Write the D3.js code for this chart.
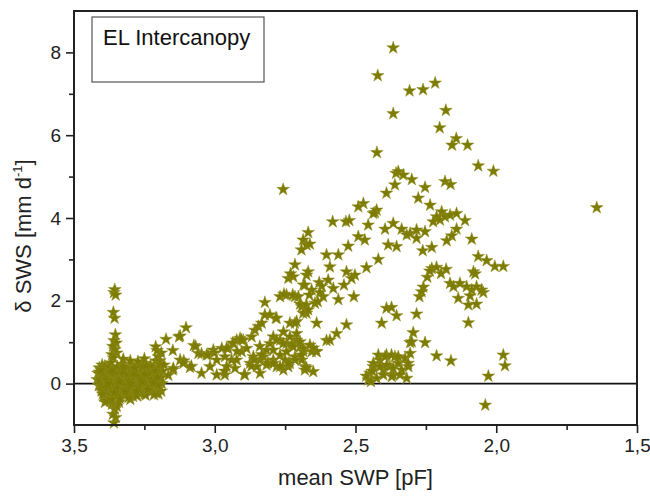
<!DOCTYPE html>
<html>
<head>
<meta charset="utf-8">
<script src="https://cdn.jsdelivr.net/npm/d3@7"></script>
<style>
  html, body { margin: 0; padding: 0; background: #fff; }
  svg { display: block; font-family: "Liberation Sans", Arial, sans-serif; }
</style>
</head>
<body>
<svg id="chart" width="650" height="496"></svg>
<script>
// ---------------- data ----------------
const xTickValues = [3.5, 3.0, 2.5, 2.0, 1.5];
const xTickLabels = ["3,5", "3,0", "2,5", "2,0", "1,5"];
const xMinorTicks = [3.25, 2.75, 2.25, 1.75];
const yTickValues = [0, 2, 4, 6, 8];
const yTickLabels = ["0", "2", "4", "6", "8"];
const yMinorTicks = [1, 3, 5, 7];
const legendLabel = "EL Intercanopy";
const xTitle = "mean SWP [pF]";

// near-saturated cluster (mean SWP ~3.2-3.42 pF)
const clusterSWP = [
  3.358,3.355,3.352,3.360,3.356,3.353,3.358,3.350,3.362,3.355,3.348,3.365,3.360,
  3.358,3.352,3.362,3.355,3.348,3.365,3.340,3.370,
  3.418,3.415,3.412,3.410,3.405,3.402,3.400,3.398,
  3.39,3.37,3.33,3.30,3.27,3.25,3.23,3.21,
  3.40,3.38,3.36,3.34,3.32,3.30,3.28,3.26,3.24,3.22,3.20,3.195,
  3.395,3.375,3.355,3.335,3.315,3.295,3.275,3.255,3.235,3.215,3.198,
  3.405,3.385,3.365,3.345,3.325,3.305,3.285,3.265,3.245,3.225,3.205,
  3.40,3.38,3.36,3.34,3.32,3.30,3.28,3.26,3.24,3.22,3.205,
  3.395,3.375,3.355,3.335,3.31,3.29,3.27,3.25,3.23,3.21,
  3.39,3.38,3.30,3.20,3.19,3.205,3.21,3.195,3.185,3.19,3.188,3.19,3.20,3.325,3.273,3.30,3.25,
  3.408,3.392,3.372,3.352,3.332,3.312,3.292,3.272,3.252,3.232,3.212,
  3.402,3.382,3.362,3.342,3.322,3.302,3.282,3.262,3.242,3.222,3.202,
  3.396,3.376,3.346,3.318,3.288,3.258,3.228,
  3.386,3.366,3.338,3.306,3.276,3.246,3.216,
  3.41,3.39,3.37,3.35,3.33,3.31,3.29,3.27,3.25,3.23,3.21,
  3.404,3.384,3.364,3.344,3.324,3.304,3.284,3.264,3.244,3.224,3.204,
  3.398,3.378,3.358,3.338,3.318,3.298,3.278,3.258,3.238,3.218
];
const clusterSWS = [
  2.20,2.27,2.14,1.72,1.58,1.18,1.04,0.98,0.90,0.82,0.74,0.70,0.62,
  -0.95,-0.82,-0.74,-0.62,-0.55,-0.50,-0.45,-0.42,
  0.10,0.25,-0.05,0.38,0.02,-0.18,0.45,0.18,
  0.42,0.50,0.47,0.40,0.44,0.49,0.38,0.55,
  0.31,0.28,0.35,0.26,0.33,0.29,0.30,0.27,0.32,0.36,0.40,0.55,
  0.14,0.18,0.12,0.16,0.11,0.19,0.13,0.17,0.14,0.20,0.22,
  -0.02,0.03,-0.04,0.02,-0.01,0.04,-0.03,0.01,0.03,-0.02,0.06,
  -0.16,-0.12,-0.18,-0.14,-0.11,-0.17,-0.13,-0.10,-0.12,-0.08,-0.15,
  -0.30,-0.35,-0.28,-0.32,-0.26,-0.31,-0.22,-0.25,-0.20,-0.22,
  -0.45,-0.40,-0.38,0.65,0.74,0.80,0.89,0.47,0.30,0.15,0.0,-0.18,-0.25,0.59,0.53,0.55,0.60,
  0.08,0.22,0.07,0.24,0.05,0.23,0.09,0.21,0.06,0.25,0.12,
  -0.07,-0.21,-0.08,-0.23,-0.06,-0.24,-0.09,-0.20,-0.05,-0.18,-0.04,
  0.37,0.39,0.41,0.36,0.38,0.42,0.44,
  -0.42,-0.38,-0.36,-0.33,-0.30,-0.28,-0.27,
  0.28,-0.10,0.26,-0.09,0.27,-0.12,0.24,-0.07,0.22,-0.10,0.30,
  0.33,0.09,0.31,0.07,0.40,0.06,0.37,0.10,0.43,0.09,0.15,
  -0.25,0.00,-0.22,0.05,-0.20,0.00,-0.18,0.04,-0.14,0.02
];

// band between 3.2 and 2.67 pF
const bandSWP = [
  3.173,3.127,3.102,3.149,3.123,3.110,3.149,3.180,3.165,3.123,3.074,3.058,3.112,3.147,3.088,3.047,3.083,3.068,
  3.047,3.029,3.017,3.005,2.993,2.993,2.975,2.964,2.964,2.958,2.952,2.940,2.934,2.928,2.922,2.922,2.910,2.904,2.899,2.893,
  2.887,2.875,2.869,2.863,2.857,2.851,2.845,2.839,2.839,2.833,2.827,2.822,2.822,2.816,2.816,2.804,2.804,2.792,2.792,2.780,
  2.780,2.768,2.768,2.768,2.756,2.756,2.750,2.745,2.745,2.739,2.739,2.733,2.733,2.727,2.721,2.715,2.715,2.709,2.709,2.703,
  2.697,2.691,2.691,2.685,2.685,2.679,2.674,2.674,2.906,2.936,2.921,2.958,2.965,3.002,3.024,2.895,2.870,2.859,2.840,2.833,2.811
];
const bandSWS = [
  1.07,1.13,1.35,0.80,0.57,0.55,0.33,0.45,0.20,1.15,0.92,0.73,0.49,0.37,0.39,0.25,0.42,0.90,
  0.72,0.69,0.41,0.81,0.57,0.21,0.85,0.65,0.21,0.41,0.85,0.57,0.97,0.37,1.05,0.57,1.09,0.77,1.05,0.21,
  0.85,0.49,1.13,0.65,1.29,0.41,1.38,0.57,0.25,1.46,0.65,1.66,1.96,0.81,0.45,1.66,0.97,1.13,0.57,1.58,
  0.41,2.10,1.05,0.69,1.25,0.33,0.57,2.14,0.97,2.54,0.41,1.46,0.49,0.93,2.58,2.87,0.65,1.50,1.05,2.10,
  0.89,1.86,0.57,2.38,0.77,0.41,2.62,1.70,1.06,0.98,0.78,0.86,0.30,0.74,0.70,0.22,0.42,0.58,0.90,0.70,0.50
];

// middle region 2.8-2.35 pF
const midSWP = [
  2.757,2.668,2.686,2.674,2.692,2.662,2.668,2.731,2.680,2.656,2.629,2.597,2.715,2.754,2.697,2.674,2.686,2.668,2.644,2.783,2.638,2.715,2.603,2.567,2.532,
  2.780,2.757,2.733,2.709,2.721,2.745,2.792,2.697,2.686,2.662,2.656,2.692,2.715,2.739,2.768,2.680,2.650,2.792,2.638,
  2.581,2.534,2.522,2.603,2.561,2.591,2.615,2.579,2.561,2.541,2.506,2.532,2.502,2.514,2.526,2.490,2.467,2.461,2.455,2.472,2.490,2.425,2.431,2.419,2.395,2.366,2.384,2.354,2.356,2.360,2.390,
  2.620,2.627,2.634,2.664,2.723,2.591,2.639,2.650,2.674
];
const midSWS = [
  4.69,3.65,3.47,3.35,3.23,3.37,2.70,2.65,2.38,2.26,2.44,2.50,2.10,2.16,1.92,1.90,1.70,1.78,1.94,1.58,1.46,1.46,1.04,1.21,1.42,
  1.05,0.97,1.13,1.21,0.89,0.77,0.81,1.01,0.85,0.93,0.77,0.69,0.57,0.49,0.41,0.33,0.29,0.49,0.77,
  3.91,3.91,3.94,3.11,3.11,2.82,2.10,2.30,2.03,2.38,2.10,2.70,2.62,2.54,3.32,3.55,3.47,2.80,3.83,4.35,4.27,4.19,4.13,3.00,3.73,3.87,3.35,3.31,5.08,4.80,4.60,
  2.35,2.20,1.98,2.14,2.14,1.05,0.78,0.86,0.38
];

// low group near 2.45-2.3 pF
const lowSWP = [
  2.390,2.372,2.407,2.354,2.449,2.437,2.413,2.390,2.360,2.425,2.455,2.401,2.378,2.348,2.366,2.437,
  2.419,2.395,2.372,2.348,2.324,2.306,2.413,2.389,2.366,2.336,2.312,2.401,2.371,2.342,2.318,
  2.462,2.445,2.440
];
const lowSWS = [
  1.82,1.84,1.46,1.64,0.25,0.41,0.57,0.69,0.65,0.13,0.09,0.33,0.41,0.49,0.21,0.49,
  0.69,0.65,0.69,0.65,0.61,0.73,0.41,0.45,0.37,0.33,0.41,0.21,0.17,0.21,0.13,
  0.18,0.05,0.30
];

// drier branches 2.45-1.6 pF
const drySWP = [
  2.366,2.421,2.308,2.260,2.217,2.366,2.179,2.201,2.142,2.157,2.102,2.424,2.064,2.010,1.643,2.039,
  2.348,2.330,2.300,2.253,2.182,2.162,2.277,2.235,2.437,2.194,2.212,2.224,2.200,2.182,2.164,2.141,2.111,2.336,2.306,2.283,2.253,2.318,2.141,2.158,2.176,2.283,2.087,2.261,2.229,
  2.064,2.034,2.005,1.975,2.229,2.212,2.178,2.196,2.245,2.081,2.075,2.164,2.152,2.129,2.105,2.087,2.070,2.046,2.259,2.273,2.135,2.099,2.070,2.093,2.283,2.099,2.295,2.306,2.253,
  2.212,2.161,2.028,1.975,1.969,2.265,2.236,2.052,2.300,2.313
];
const drySWS = [
  8.11,7.44,7.07,7.10,7.26,6.52,6.60,6.18,5.92,5.76,5.76,5.58,5.26,5.13,4.25,-0.52,
  5.12,5.04,4.93,4.74,4.88,4.81,4.48,4.31,4.11,4.15,4.03,3.91,3.95,4.03,4.07,4.11,3.94,3.73,3.63,3.71,3.67,3.59,3.73,3.57,3.45,3.51,3.49,3.21,3.29,
  3.07,2.97,2.83,2.83,2.78,2.81,2.76,2.66,2.57,2.70,2.65,2.42,2.34,2.42,2.34,2.26,2.34,2.20,2.33,2.10,2.06,1.90,1.92,2.12,1.68,1.47,1.23,0.99,0.99,
  0.67,0.55,0.18,0.69,0.43,2.22,2.72,2.26,1.01,0.49
];

// ---------------- drawing ----------------
const points = [].concat(
  d3.zip(clusterSWP, clusterSWS),
  d3.zip(bandSWP, bandSWS),
  d3.zip(midSWP, midSWS),
  d3.zip(lowSWP, lowSWS),
  d3.zip(drySWP, drySWS)
);

const svg = d3.select("#chart");
const plot = { left: 74, right: 637, top: 11, bottom: 425 };

const x = d3.scaleLinear().domain([3.5, 1.5]).range([plot.left, plot.right]);
const y = d3.scaleLinear().domain([-1, 9]).range([plot.bottom, plot.top]);

const axisColor = "#222";
const fontSize = 19;

// zero line
svg.append("line")
  .attr("x1", plot.left).attr("x2", plot.right)
  .attr("y1", y(0)).attr("y2", y(0))
  .attr("stroke", "#111").attr("stroke-width", 1.8);

// stars
const star = d3.symbol().type(d3.symbolStar).size(50);
svg.append("g").selectAll("path")
  .data(points)
  .join("path")
  .attr("d", star)
  .attr("transform", d => `translate(${x(d[0])},${y(d[1])})`)
  .attr("fill", "#7d7b00")
  .attr("stroke", "#8f8d20")
  .attr("stroke-width", 0.5);

// axes
function styleAxis(g) {
  g.select(".domain").remove();
  g.selectAll(".tick line").attr("stroke", axisColor).attr("stroke-width", 1.6);
  g.selectAll(".tick text").attr("fill", "#222").attr("font-size", fontSize)
    .attr("font-family", '"Liberation Sans", Arial, sans-serif');
}

svg.append("g")
  .attr("transform", `translate(0,${plot.bottom})`)
  .call(d3.axisBottom(x).tickValues(xTickValues).tickSize(8).tickPadding(6)
    .tickFormat((d, i) => xTickLabels[i]))
  .call(styleAxis);

svg.append("g")
  .attr("transform", `translate(0,${plot.bottom})`)
  .call(d3.axisBottom(x).tickValues(xMinorTicks).tickSize(5).tickFormat(""))
  .call(styleAxis);

svg.append("g")
  .attr("transform", `translate(${plot.left},0)`)
  .call(d3.axisLeft(y).tickValues(yTickValues).tickSize(8).tickPadding(5)
    .tickFormat((d, i) => yTickLabels[i]))
  .call(styleAxis);

svg.append("g")
  .attr("transform", `translate(${plot.left},0)`)
  .call(d3.axisLeft(y).tickValues(yMinorTicks).tickSize(5).tickFormat(""))
  .call(styleAxis);

// frame
svg.append("rect")
  .attr("x", plot.left).attr("y", plot.top)
  .attr("width", plot.right - plot.left).attr("height", plot.bottom - plot.top)
  .attr("fill", "none").attr("stroke", axisColor).attr("stroke-width", 2);

// axis titles
svg.append("text")
  .attr("x", (plot.left + plot.right) / 2).attr("y", 485)
  .attr("text-anchor", "middle").attr("font-size", 22).attr("fill", "#222")
  .text(xTitle);

const yt = svg.append("text")
  .attr("transform", `translate(31,${(plot.top + plot.bottom) / 2 + 18}) rotate(-90)`)
  .attr("text-anchor", "middle").attr("font-size", 22).attr("fill", "#222");
yt.append("tspan").text("\u03B4 SWS [mm d");
yt.append("tspan").attr("font-size", 13).attr("dy", -9).text("-1");
yt.append("tspan").attr("dy", 9).text("]");

// legend box
svg.append("rect")
  .attr("x", 92).attr("y", 17).attr("width", 172).attr("height", 65)
  .attr("fill", "#fff").attr("stroke", "#555").attr("stroke-width", 1.2);
svg.append("text")
  .attr("x", 103).attr("y", 45).attr("font-size", 22).attr("fill", "#111")
  .text(legendLabel);
</script>
</body>
</html>
